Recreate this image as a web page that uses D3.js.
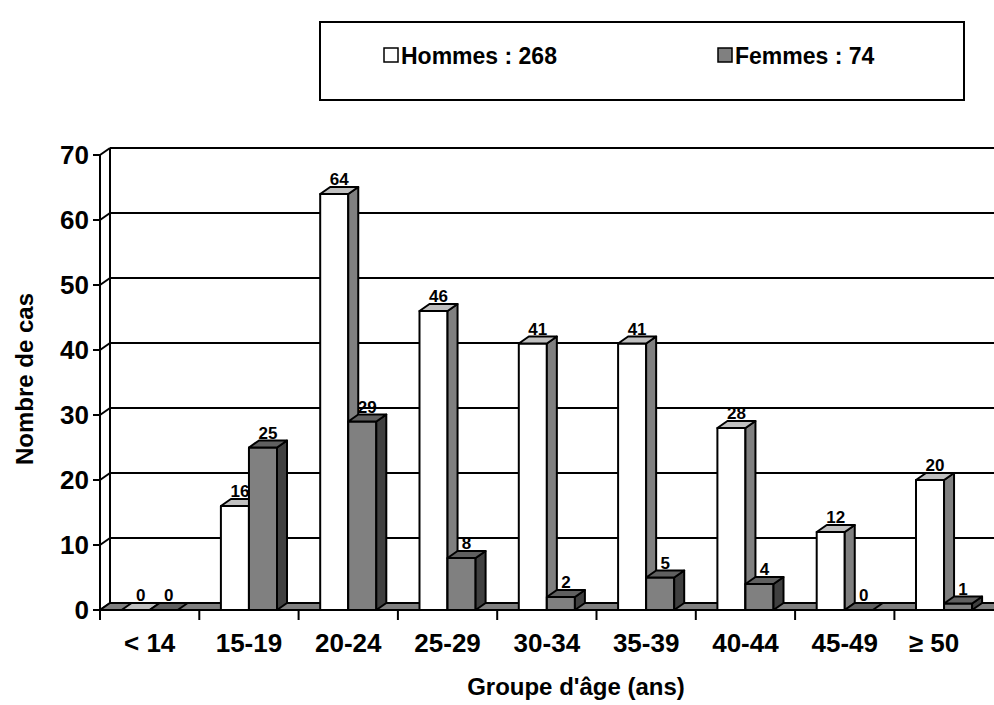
<!DOCTYPE html>
<html>
<head>
<meta charset="utf-8">
<script src="https://cdn.jsdelivr.net/npm/d3@7"></script>
<style>
  html, body { margin: 0; padding: 0; background: #ffffff; }
  svg { display: block; }
  text { font-family: "Liberation Sans", Arial, sans-serif; font-weight: bold; fill: #000; }
</style>
</head>
<body>
<svg id="chart" width="994" height="705"></svg>
<script>
// Age groups and case counts by sex
const categories = ["< 14", "15-19", "20-24", "25-29", "30-34", "35-39", "40-44", "45-49", "\u2265 50"];
const series = ["Hommes", "Femmes"];
const hommes = [0, 16, 64, 46, 41, 41, 28, 12, 20];
const femmes = [0, 25, 29, 8, 2, 5, 4, 0, 1];
const legendLabels = ["Hommes : 268", "Femmes : 74"];
const yTicks = [0, 10, 20, 30, 40, 50, 60, 70];

const W = 994, H = 705;
const DX = 10, DY = -7;          // 3D depth offset
const faces = {
  Hommes: { front: "#ffffff", top: "#c0c0c0", side: "#808080" },
  Femmes: { front: "#808080", top: "#606060", side: "#404040" }
};
const values = { Hommes: hommes, Femmes: femmes };

const svg = d3.select("#chart");

const x0 = d3.scaleBand().domain(categories).range([100, 100 + 9 * 99.3]).paddingInner(0).paddingOuter(0);
const x1 = d3.scaleBand().domain(series).range([0, x0.bandwidth()]).paddingInner(0).paddingOuter(0.77);
const y = d3.scaleLinear().domain([0, 70]).range([610, 155]);

const xLeft = x0.range()[0];
const xRight = W + DX + 2;

// back wall gridlines
svg.append("g").selectAll("line").data(yTicks.filter(d => d > 0)).join("line")
  .attr("x1", xLeft + DX).attr("x2", xRight)
  .attr("y1", d => y(d) + DY).attr("y2", d => y(d) + DY)
  .attr("stroke", "#000").attr("stroke-width", 2);

// left wall: diagonals and edges
const wall = svg.append("g").attr("stroke", "#000").attr("stroke-width", 2).attr("fill", "none");
wall.selectAll("line.diag").data(yTicks).join("line").attr("class", "diag")
  .attr("x1", xLeft).attr("y1", d => y(d))
  .attr("x2", xLeft + DX).attr("y2", d => y(d) + DY);
wall.append("line").attr("x1", xLeft).attr("x2", xLeft).attr("y1", y(0)).attr("y2", y(70));
wall.append("line").attr("x1", xLeft + DX).attr("x2", xLeft + DX).attr("y1", y(0) + DY).attr("y2", y(70) + DY);

// y axis ticks + labels
const yAxis = svg.append("g");
yAxis.selectAll("line").data(yTicks).join("line")
  .attr("x1", xLeft - 7).attr("x2", xLeft)
  .attr("y1", d => y(d)).attr("y2", d => y(d))
  .attr("stroke", "#000").attr("stroke-width", 2);
yAxis.selectAll("text").data(yTicks).join("text")
  .attr("x", xLeft - 11).attr("y", d => y(d) + 9)
  .attr("text-anchor", "end").attr("font-size", 26)
  .text(d => d);

// floor
svg.append("polygon")
  .attr("points", [[xLeft, y(0)], [xRight, y(0)], [xRight + DX, y(0) + DY], [xLeft + DX, y(0) + DY]].map(p => p.join(",")).join(" "))
  .attr("fill", "#808080").attr("stroke", "#000").attr("stroke-width", 2).attr("stroke-linejoin", "round");

// bars, drawn front-to-back per category so later bars overlap earlier sides
const bars = svg.append("g");
categories.forEach((cat, i) => {
  series.forEach(s => {
    const v = values[s][i];
    const bx = x0(cat) + x1(s), bw = x1.bandwidth();
    const yt = y(v), yb = y(0);
    const g = bars.append("g").attr("stroke", "#000").attr("stroke-width", 2).attr("stroke-linejoin", "round");
    if (v > 0) {
      g.append("rect").attr("x", bx).attr("y", yt).attr("width", bw).attr("height", yb - yt).attr("fill", faces[s].front);
      g.append("polygon")
        .attr("points", [[bx + bw, yt], [bx + bw + DX, yt + DY], [bx + bw + DX, yb + DY], [bx + bw, yb]].map(p => p.join(",")).join(" "))
        .attr("fill", faces[s].side);
    }
    g.append("polygon")
      .attr("points", [[bx, yt], [bx + DX, yt + DY], [bx + bw + DX, yt + DY], [bx + bw, yt]].map(p => p.join(",")).join(" "))
      .attr("fill", faces[s].top);
    bars.append("text")
      .attr("x", bx + (bw + DX) / 2).attr("y", yt + DY - 2)
      .attr("text-anchor", "middle").attr("font-size", 17)
      .text(v);
  });
});

// front x axis line and ticks
const xAxis = svg.append("g").attr("stroke", "#000").attr("stroke-width", 2);
xAxis.append("line").attr("x1", xLeft).attr("x2", xRight).attr("y1", y(0)).attr("y2", y(0));
xAxis.selectAll("line.tick").data(categories).join("line").attr("class", "tick")
  .attr("x1", d => x0(d)).attr("x2", d => x0(d))
  .attr("y1", y(0)).attr("y2", y(0) + 10);

svg.append("g").selectAll("text").data(categories).join("text")
  .attr("x", d => x0(d) + x0.bandwidth() / 2).attr("y", 652)
  .attr("dx", (d, i) => i === categories.length - 1 ? -10 : 0)
  .attr("text-anchor", "middle").attr("font-size", 26)
  .text(d => d);

// axis titles
svg.append("text").attr("x", 576).attr("y", 695).attr("text-anchor", "middle").attr("font-size", 24)
  .text("Groupe d'âge (ans)");
svg.append("text").attr("transform", "translate(33,379) rotate(-90)").attr("text-anchor", "middle").attr("font-size", 24)
  .text("Nombre de cas");

// legend
const legend = svg.append("g");
legend.append("rect").attr("x", 320).attr("y", 22).attr("width", 644).attr("height", 78)
  .attr("fill", "#fff").attr("stroke", "#000").attr("stroke-width", 2);
const legendX = [384, 718];
series.forEach((s, i) => {
  legend.append("rect").attr("x", legendX[i]).attr("y", 48).attr("width", 14).attr("height", 14)
    .attr("fill", faces[s].front).attr("stroke", "#000").attr("stroke-width", 1.5);
  legend.append("text").attr("x", legendX[i] + 17).attr("y", 64).attr("font-size", 23).text(legendLabels[i]);
});
</script>
</body>
</html>
